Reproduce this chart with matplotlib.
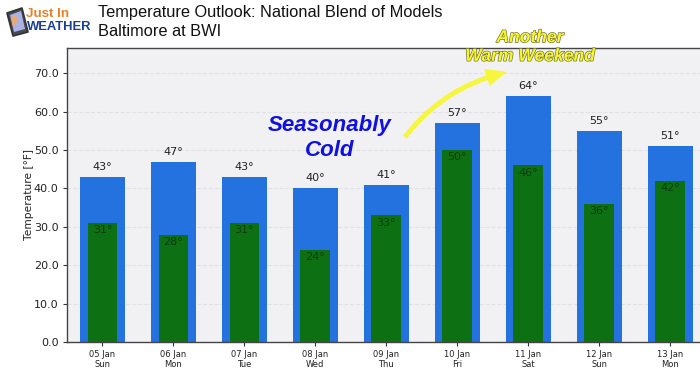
import matplotlib
matplotlib.use('Agg')
import matplotlib.pyplot as plt
from matplotlib.patches import FancyArrowPatch, Polygon
import matplotlib.patheffects as pe

dates = ['05 Jan', '06 Jan', '07 Jan', '08 Jan', '09 Jan', '10 Jan', '11 Jan', '12 Jan', '13 Jan']
days = ['Sun', 'Mon', 'Tue', 'Wed', 'Thu', 'Fri', 'Sat', 'Sun', 'Mon']
highs = [43, 47, 43, 40, 41, 57, 64, 55, 51]
lows = [31, 28, 31, 24, 33, 50, 46, 36, 42]
yticks = [0, 10, 20, 30, 40, 50, 60, 70]

plt.rcParams['font.family'] = 'DejaVu Sans'
W, H = 700, 373
fig = plt.figure(figsize=(W / 100, H / 100), dpi=100)
ax = fig.add_axes([67 / W, 1 - 342 / H, (700 - 67) / W, (342 - 48) / H])
ax.set_facecolor('#f1f1f3')

x = list(range(len(dates)))
ax.bar(x, highs, width=0.63, color='#2472e0', zorder=2)
ax.bar(x, lows, width=0.42, color='#0d7013', zorder=3)

for i in x:
    ax.text(i, highs[i] + 1.3, f'{highs[i]}°', ha='center', va='bottom', fontsize=8, color='#222222', zorder=4)
    ax.text(i, lows[i] - 0.6, f'{lows[i]}°', ha='center', va='top', fontsize=8, color='#0f3d14', zorder=4)

ax.set_xlim(-0.5, 8.42)
ax.set_ylim(0, 76.6)
ax.set_xticks(x)
ax.set_xticklabels([f'{d}\n{n}' for d, n in zip(dates, days)], fontsize=6, color='#222222', linespacing=1.05)
ax.set_yticks(yticks)
ax.set_yticklabels([f'{v:.1f}' for v in yticks], fontsize=8, color='#222222')
ax.tick_params(axis='both', length=3, width=0.8, color='#333333', pad=3)
ax.grid(axis='y', color='#e2e2e2', linestyle='--', linewidth=0.8, zorder=1)
ax.set_axisbelow(True)
for side in ['top', 'bottom', 'left']:
    ax.spines[side].set_color('#444444')
    ax.spines[side].set_linewidth(1)
ax.spines['right'].set_visible(False)

# headings, in pixel positions of the whole picture
def px(xp, yp):
    return xp / W, 1 - yp / H

fig.text(*px(29, 195), 'Temperature [°F]', fontsize=7.7, rotation=90, ha='center', va='center', color='#222222')

fig.text(*px(98, 12), 'Temperature Outlook: National Blend of Models', fontsize=11.75, va='center', color='#111111', family='Liberation Sans')
fig.text(*px(98, 31), 'Baltimore at BWI', fontsize=11.75, va='center', color='#111111', family='Liberation Sans')

# annotations
fig.text(*px(330, 138), 'Seasonably\nCold', fontsize=16, fontweight='bold', style='italic', color='#1010e0',
         ha='center', va='center', family='Liberation Sans', linespacing=1.25, zorder=6)

outline = [pe.withStroke(linewidth=0.9, foreground='#6b6b30')]
fig.text(*px(530, 47), 'Another\nWarm Weekend', fontsize=12.6, fontweight='bold', style='italic', color='#f6f62e',
         ha='center', va='center', family='Liberation Sans', linespacing=1.3, path_effects=outline, zorder=6)

arrow = FancyArrowPatch(px(405, 137), px(507, 72), transform=fig.transFigure,
                        connectionstyle='arc3,rad=-0.18',
                        arrowstyle='simple,tail_width=3.5,head_width=13,head_length=15',
                        mutation_scale=1, linewidth=0, color='#f6f63c', zorder=6, shrinkA=0, shrinkB=0)
fig.add_artist(arrow)

# logo
fig.add_artist(Polygon([px(7, 13), px(22, 8), px(28, 32), px(13, 36)], closed=True, transform=fig.transFigure,
                       facecolor='#4a4a55', edgecolor='#333333', linewidth=1.2, joinstyle='round'))
fig.add_artist(Polygon([px(10, 15), px(21, 11), px(25, 29), px(14, 32)], closed=True, transform=fig.transFigure,
                       facecolor='#aab4e4', edgecolor='none'))
fig.add_artist(Polygon([px(11, 17), px(16, 15), px(18, 22), px(13, 27)], closed=True, transform=fig.transFigure,
                       facecolor='#e9a878', edgecolor='none'))
fig.text(*px(26, 14), 'Just In', fontsize=9.6, fontweight='bold', color='#e8802a', va='center', family='Liberation Sans')
fig.text(*px(27, 27), 'WEATHER', fontsize=9.4, fontweight='bold', color='#1c3f94', va='center', family='Liberation Sans')

fig.savefig('out.png', dpi=100)
